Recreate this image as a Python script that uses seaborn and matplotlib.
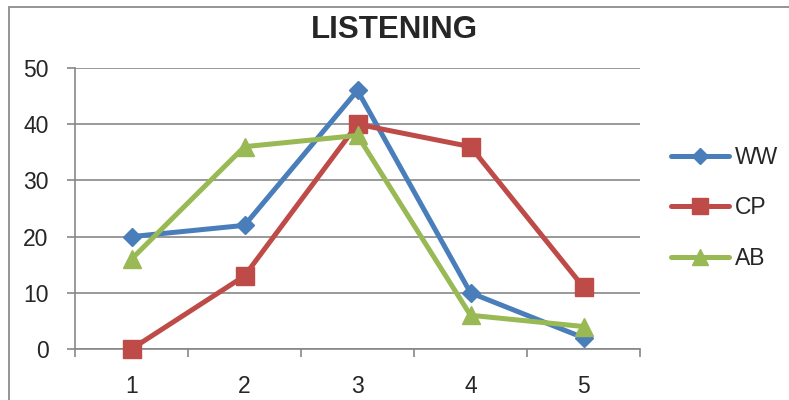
import matplotlib
matplotlib.use("Agg")
import matplotlib.pyplot as plt
from matplotlib.patches import Rectangle
from matplotlib.lines import Line2D
import seaborn as sns
import pandas as pd

# Scores per rating level for each group
levels = [1, 2, 3, 4, 5]
ww = [20, 22, 46, 10, 2]
cp = [0, 13, 40, 36, 11]
ab = [16, 36, 38, 6, 4]
series_names = ["WW", "CP", "AB"]
y_ticks = [0, 10, 20, 30, 40, 50]

colors = {"WW": "#4A7EBB", "CP": "#BE4B48", "AB": "#98B954"}
markers = {"WW": "D", "CP": "s", "AB": "^"}
msizes = {"WW": 9, "CP": 13, "AB": 13}

df = pd.concat([
    pd.DataFrame({"level": levels, "value": vals, "series": name})
    for name, vals in zip(series_names, [ww, cp, ab])
], ignore_index=True)

sns.set_theme(style="white")
plt.rcParams["font.family"] = ["Liberation Sans", "DejaVu Sans"]

fig = plt.figure(figsize=(7.89, 4.0), dpi=100)
ax = fig.add_axes([75 / 789, 1 - 349 / 400, (640 - 75) / 789, (349 - 68) / 400])

grid_color = "#878787"

for name in series_names:
    sub = df[df["series"] == name]
    sns.lineplot(data=sub, x="level", y="value", ax=ax, color=colors[name],
                 linewidth=3.6, marker=markers[name], markersize=msizes[name],
                 markeredgewidth=1, markeredgecolor=colors[name],
                 legend=False, zorder=3)

# let markers sitting on the axis line draw in full
for line in ax.lines:
    line.set_clip_on(False)

ax.set_xlim(0.5, 5.5)
ax.set_ylim(0, 50)
ax.set_xlabel("")
ax.set_ylabel("")

# horizontal gridlines
ax.set_yticks(y_ticks)
ax.set_yticklabels([str(v) for v in y_ticks], fontsize=16.5)
ax.yaxis.grid(True, color=grid_color, linewidth=1.2)
ax.xaxis.grid(False)
ax.set_axisbelow(True)

# category boundaries get tick marks, category centres get the labels
ax.set_xticks([0.5 + i for i in range(len(levels) + 1)])
ax.set_xticklabels([""] * (len(levels) + 1))
ax.set_xticks(levels, minor=True)
ax.set_xticklabels([str(v) for v in levels], minor=True, fontsize=16.5)
ax.tick_params(axis="x", which="major", direction="out", length=6, width=1.2,
               color=grid_color, bottom=True)
ax.tick_params(axis="x", which="minor", length=0, pad=19, bottom=True)
ax.tick_params(axis="y", direction="out", length=6, width=1.2, color=grid_color,
               left=True, pad=13)

for side in ["top", "right"]:
    ax.spines[side].set_visible(False)
for side in ["left", "bottom"]:
    ax.spines[side].set_color(grid_color)
    ax.spines[side].set_linewidth(1.2)
    ax.spines[side].set_zorder(1)

# legend
handles = [Line2D([0], [0], color=colors[n], linewidth=3.6, marker=markers[n],
                  markersize=msizes[n] - 1, markeredgecolor=colors[n])
           for n in series_names]
fig.legend(handles, series_names, loc="center left",
           bbox_to_anchor=(660 / 789, 1 - 208 / 400), frameon=False,
           fontsize=16.5, handlelength=2.5, handletextpad=0.25,
           labelspacing=1.2, borderpad=0)

fig.text(394 / 789, 1 - 30 / 400, "LISTENING", ha="center", va="center",
         fontsize=22.5, fontweight="bold")

# chart area border
fig.patches.append(Rectangle((9 / 789, -0.1), 1.2, 1 - 7 / 400 + 0.1,
                             transform=fig.transFigure, fill=False,
                             edgecolor="#8C8C8C", linewidth=1.3))

fig.savefig("out.png", dpi=100)
